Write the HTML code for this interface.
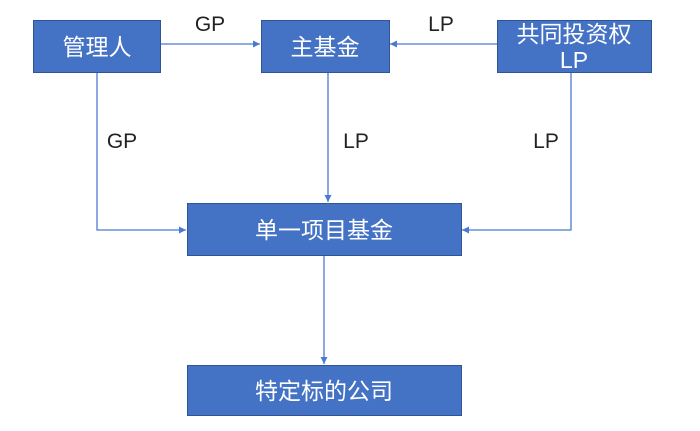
<!DOCTYPE html>
<html><head><meta charset="utf-8"><style>
body{margin:0;width:700px;height:426px;background:#fff;overflow:hidden}
svg text{font-family:"Liberation Sans","Noto Sans CJK SC",sans-serif}
</style></head><body>
<svg width="700" height="426" xmlns="http://www.w3.org/2000/svg">
<defs><marker id="a" markerWidth="8" markerHeight="8" refX="7" refY="4" orient="auto" markerUnits="userSpaceOnUse"><path d="M0,0.5 L7,4 L0,7.5 Z" fill="#4a7bd0"/></marker></defs>
<g stroke="#4a7bd0" stroke-width="1.3" fill="none" marker-end="url(#a)">
<line x1="160" y1="44" x2="260" y2="44"/>
<line x1="497" y1="44" x2="390" y2="44"/>
<line x1="328" y1="72" x2="328" y2="202"/>
<polyline points="97,72 97,230 186,230"/>
<polyline points="571,72 571,230 462,230"/>
<line x1="324" y1="255" x2="324" y2="364"/>
</g>
<g fill="#4472c4" stroke="#2f5597" stroke-width="1">
<rect x="33.5" y="20.5" width="127" height="52"/>
<rect x="261.5" y="20.5" width="128" height="52"/>
<rect x="497.5" y="20.5" width="154" height="52"/>
<rect x="187.5" y="203.5" width="274" height="52"/>
<rect x="187.5" y="365.5" width="274" height="50"/>
</g>
<g fill="#fff" font-size="23" text-anchor="middle">
<text x="97" y="55">管理人</text>
<text x="325" y="55">主基金</text>
<text x="574" y="42">共同投资权</text>
<text x="574" y="68">LP</text>
<text x="324" y="238">单一项目基金</text>
<text x="324" y="399">特定标的公司</text>
</g>
<g fill="#222" font-size="21" text-anchor="middle">
<text x="210" y="31">GP</text>
<text x="441" y="31">LP</text>
<text x="122" y="148">GP</text>
<text x="356" y="148">LP</text>
<text x="546" y="148">LP</text>
</g>
</svg>
</body></html>
